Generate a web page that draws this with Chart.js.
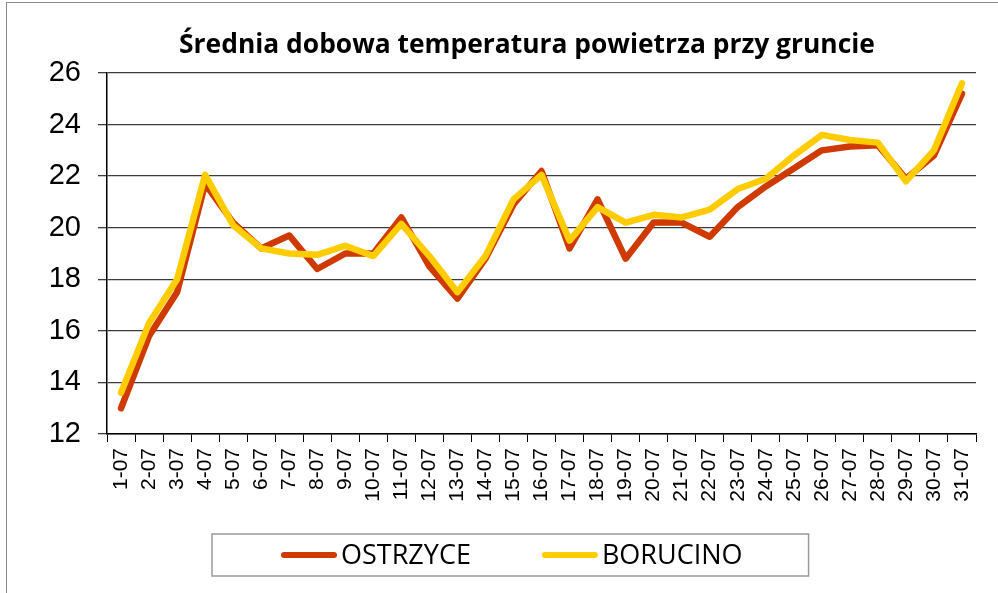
<!DOCTYPE html>
<html lang="pl">
<head>
  <meta charset="UTF-8" />
  <title>Średnia dobowa temperatura powietrza przy gruncie</title>
  <script src="https://cdn.jsdelivr.net/npm/chart.js"></script>
  <style>
    html, body { margin: 0; padding: 0; overflow: hidden; background: #fff; }
    #frame {
      position: absolute; left: 6px; top: 2px;
      width: 1100px; height: 700px;
      border-left: 1.5px solid #8a8a8a; border-top: 1.5px solid #8a8a8a;
    }
    #wrap { position: absolute; left: 0; top: 0; width: 1026px; height: 589px; }
  </style>
</head>
<body>
  <div id="frame">
    <div id="wrap"><canvas id="tempChart"></canvas></div>
  </div>

  <script>
    const days = ['1-07','2-07','3-07','4-07','5-07','6-07','7-07','8-07','9-07','10-07',
                  '11-07','12-07','13-07','14-07','15-07','16-07','17-07','18-07','19-07','20-07',
                  '21-07','22-07','23-07','24-07','25-07','26-07','27-07','28-07','29-07','30-07','31-07'];
    const ostrzyce = [13.0, 15.8, 17.5, 21.7, 20.2, 19.2, 19.7, 18.4, 19.0, 19.0,
                      20.4, 18.5, 17.25, 18.8, 20.9, 22.2, 19.2, 21.1, 18.8, 20.2,
                      20.2, 19.65, 20.8, 21.6, 22.3, 23.0, 23.15, 23.2, 21.9, 22.8, 25.2];
    const borucino = [13.6, 16.3, 18.0, 22.05, 20.1, 19.2, 19.0, 18.95, 19.3, 18.9,
                      20.15, 18.9, 17.5, 18.9, 21.1, 22.05, 19.5, 20.8, 20.2, 20.5,
                      20.4, 20.7, 21.5, 21.9, 22.8, 23.6, 23.4, 23.3, 21.8, 23.0, 25.6];
    const yMin = 12, yMax = 26, yStep = 2;
    const title = 'Średnia dobowa temperatura powietrza przy gruncie';

    const narrow = '"Liberation Sans Narrow", "Open Sans", sans-serif';

    // tytul i legenda w ramce rysowane recznie (jak w Excelu, nie na srodku plotna)
    const excelDecor = {
      id: 'excelDecor',
      afterDraw(chart) {
        const ctx = chart.ctx;
        ctx.save();

        // tytul
        ctx.font = 'bold 26.4px ' + narrow;
        ctx.fillStyle = '#000';
        ctx.textAlign = 'center';
        ctx.textBaseline = 'middle';
        ctx.fillText(title, 520, 42);

        // legenda
        const y = 552, lineLen = 56, gap = 4, between = 71;
        ctx.font = '27px ' + narrow;
        ctx.textAlign = 'left';
        let x = 274;
        const startX = x;
        chart.data.datasets.forEach((ds, i) => {
          ctx.strokeStyle = ds.borderColor;
          ctx.lineWidth = 6;
          ctx.lineCap = 'round';
          ctx.beginPath();
          ctx.moveTo(x + 3, y);
          ctx.lineTo(x + lineLen - 3, y);
          ctx.stroke();
          x += lineLen + gap;
          ctx.fillStyle = '#000';
          ctx.fillText(ds.label, x, y + 1);
          x += ctx.measureText(ds.label).width;
          if (i < chart.data.datasets.length - 1) x += between;
        });
        ctx.strokeStyle = '#9a9a9a';
        ctx.lineWidth = 1.5;
        ctx.strokeRect(startX - 69, 531, (x + 66) - (startX - 69), 42);
        ctx.restore();
      }
    };

    new Chart(document.getElementById('tempChart'), {
      type: 'line',
      data: {
        labels: days,
        datasets: [
          { label: 'OSTRZYCE', data: ostrzyce, borderColor: '#CF3A00', order: 1 },
          { label: 'BORUCINO', data: borucino, borderColor: '#FFCC00', order: 0 }
        ]
      },
      options: {
        responsive: true,
        maintainAspectRatio: false,
        animation: false,
        layout: { padding: { left: 0, right: 57, top: 70, bottom: 68 } },
        elements: {
          line: { borderWidth: 6.5, tension: 0, borderJoinStyle: 'round', borderCapStyle: 'round', fill: false },
          point: { radius: 0, hoverRadius: 0 }
        },
        plugins: {
          legend: { display: false },
          tooltip: { enabled: false },
          title: { display: false }
        },
        scales: {
          x: {
            offset: true,
            grid: { offset: true, drawOnChartArea: false, drawTicks: true, tickLength: 8, color: '#000', lineWidth: 1 },
            border: { color: '#000', width: 1.5 },
            ticks: {
              autoSkip: false, maxRotation: 90, minRotation: 90, padding: 6,
              color: '#000', font: { family: '"Liberation Sans", Arial, sans-serif', size: 21 }
            },
            afterFit: s => { s.height = 90; }
          },
          y: {
            min: yMin, max: yMax,
            grid: { color: '#3c3c3c', lineWidth: 1.3, tickLength: 9, drawTicks: true },
            border: { color: '#000', width: 1.5 },
            ticks: {
              stepSize: yStep, padding: 17, color: '#000',
              font: { family: '"Liberation Sans", Arial, sans-serif', size: 29 }
            },
            afterFit: s => { s.width = 100; }
          }
        }
      },
      plugins: [excelDecor]
    });
  </script>
</body>
</html>
